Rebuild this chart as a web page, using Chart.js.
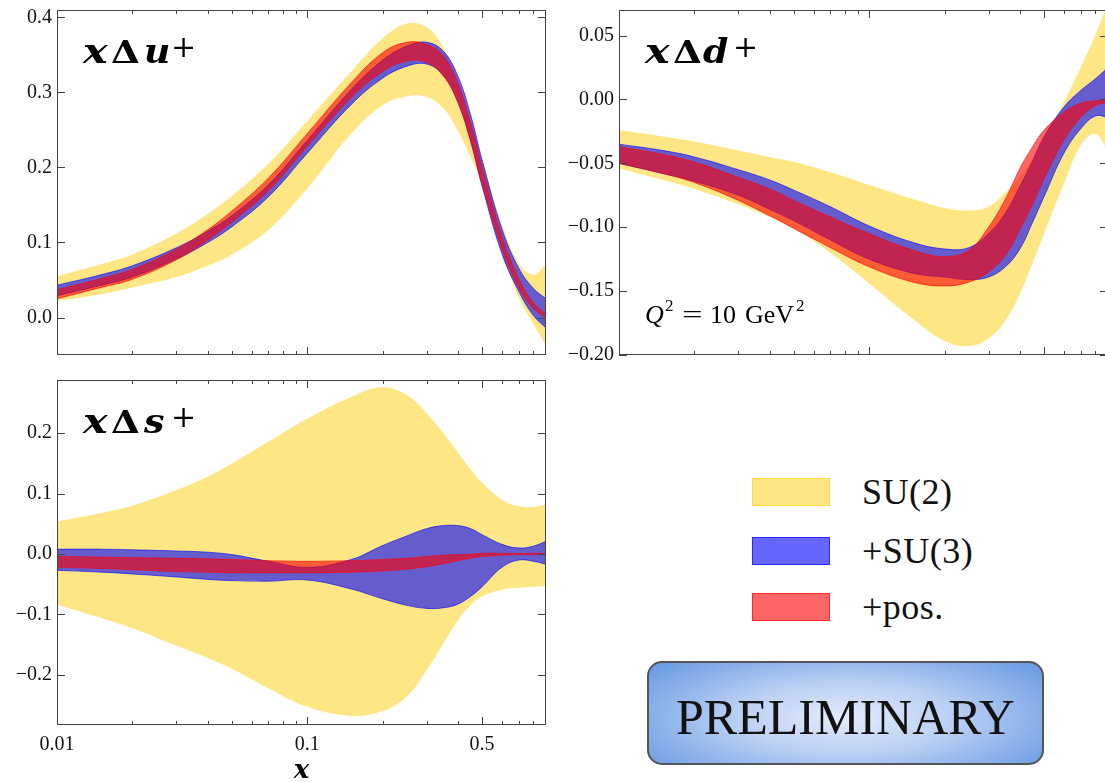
<!DOCTYPE html>
<html>
<head>
<meta charset="utf-8">
<title>Helicity PDFs</title>
<script src="https://cdn.jsdelivr.net/npm/chart.js@4.4.1/dist/chart.umd.min.js"></script>
<style>
  html, body { margin: 0; padding: 0; }
  body {
    width: 1105px; height: 782px; overflow: hidden; position: relative;
    background: #fff; color: #111;
    font-family: "Liberation Serif", "Times New Roman", serif;
  }
  .panel { position: absolute; }
  .key { position: absolute; left: 752px; width: 78px; height: 28px; box-sizing: border-box; border: 1px solid; }
  .keyText { position: absolute; left: 862px; height: 28px; line-height: 28px; font-size: 36px; letter-spacing: 0.5px; white-space: nowrap; }
  #prelim {
    position: absolute; left: 647px; top: 661px; width: 397px; height: 104px;
    box-sizing: border-box; border: 2px solid #555; border-radius: 15px;
    background: radial-gradient(ellipse 62% 80% at 50% 55%, #e4ecfb 0%, #b9cff3 45%, #6d9de5 100%);
    font-size: 50px; text-align: center; line-height: 100px; color: #111;
  }
  #prelim span { position: relative; top: 4px; }
</style>
</head>
<body>
<div class="panel" style="left:0;top:0"><canvas id="uChart" width="550" height="368"></canvas></div>
<div class="panel" style="left:562px;top:0"><canvas id="dChart" width="550" height="368"></canvas></div>
<div class="panel" style="left:0;top:370px"><canvas id="sChart" width="550" height="412"></canvas></div>

<div class="key" id="keySu2" style="top:478px"></div>
<div class="keyText" style="top:478px">SU(2)</div>
<div class="key" id="keySu3" style="top:537px"></div>
<div class="keyText" style="top:537px">+SU(3)</div>
<div class="key" id="keyPos" style="top:593px"></div>
<div class="keyText" style="top:593px">+pos.</div>

<div id="prelim"><span>PRELIMINARY</span></div>

<script>
// x grid shared by all three panels
const xGrid = [0.01, 0.015, 0.02, 0.03, 0.04, 0.05, 0.07, 0.1, 0.15, 0.2, 0.25, 0.3, 0.35, 0.4, 0.45, 0.5, 0.6, 0.7, 0.8, 0.9];
const xMin = 0.01, xMax = 0.9;
const xTickValues = [0.01, 0.1, 0.5];
const xTickLabels = ['0.01', '0.1', '0.5'];
const xMinorTicks = [0.01, 0.02, 0.03, 0.04, 0.05, 0.06, 0.07, 0.08, 0.09, 0.1, 0.2, 0.3, 0.4, 0.5, 0.6, 0.7, 0.8];

// x Delta u+
const uSu2Hi = [0.055, 0.071, 0.084, 0.112, 0.138, 0.162, 0.205, 0.262, 0.328, 0.372, 0.392, 0.387, 0.360, 0.315, 0.263, 0.210, 0.125, 0.073, 0.057, 0.071];
const uSu2Lo = [0.022, 0.031, 0.040, 0.054, 0.069, 0.084, 0.117, 0.172, 0.245, 0.283, 0.295, 0.294, 0.279, 0.249, 0.214, 0.177, 0.087, 0.027, -0.008, -0.037];
const uSu3Hi = [0.043, 0.057, 0.069, 0.093, 0.115, 0.136, 0.177, 0.236, 0.304, 0.343, 0.362, 0.367, 0.355, 0.322, 0.270, 0.210, 0.118, 0.066, 0.039, 0.025];
const uSu3Lo = [0.029, 0.043, 0.054, 0.078, 0.100, 0.121, 0.161, 0.219, 0.284, 0.319, 0.335, 0.338, 0.323, 0.287, 0.235, 0.175, 0.085, 0.035, 0.003, -0.014];
const uPosHi = [0.037, 0.052, 0.064, 0.091, 0.117, 0.142, 0.186, 0.245, 0.313, 0.353, 0.367, 0.364, 0.349, 0.313, 0.260, 0.200, 0.108, 0.052, 0.020, 0.004];
const uPosLo = [0.025, 0.040, 0.051, 0.077, 0.103, 0.127, 0.169, 0.228, 0.293, 0.328, 0.342, 0.340, 0.322, 0.287, 0.235, 0.177, 0.092, 0.040, 0.012, 0.000];
const uTicks = [0, 0.1, 0.2, 0.3, 0.4];

// x Delta d+
const dSu2Hi = [-0.024, -0.029, -0.033, -0.040, -0.045, -0.049, -0.057, -0.067, -0.078, -0.085, -0.087, -0.084, -0.073, -0.061, -0.046, -0.030, -0.002, 0.025, 0.050, 0.076];
const dSu2Lo = [-0.054, -0.063, -0.070, -0.082, -0.092, -0.101, -0.120, -0.144, -0.172, -0.189, -0.193, -0.187, -0.173, -0.152, -0.128, -0.105, -0.066, -0.036, -0.027, -0.040];
const dSu3Hi = [-0.035, -0.040, -0.045, -0.055, -0.063, -0.071, -0.084, -0.099, -0.112, -0.117, -0.116, -0.105, -0.089, -0.068, -0.048, -0.029, -0.006, 0.007, 0.016, 0.025];
const dSu3Lo = [-0.050, -0.058, -0.064, -0.075, -0.086, -0.095, -0.110, -0.125, -0.136, -0.139, -0.141, -0.139, -0.131, -0.117, -0.096, -0.076, -0.042, -0.023, -0.013, -0.014];
const dPosHi = [-0.037, -0.043, -0.049, -0.061, -0.070, -0.079, -0.092, -0.105, -0.118, -0.123, -0.118, -0.100, -0.078, -0.054, -0.037, -0.024, -0.010, -0.003, -0.001, 0.000];
const dPosLo = [-0.050, -0.058, -0.065, -0.079, -0.091, -0.101, -0.116, -0.131, -0.143, -0.146, -0.143, -0.135, -0.122, -0.102, -0.082, -0.062, -0.032, -0.014, -0.005, -0.002];
const dTicks = [-0.2, -0.15, -0.1, -0.05, 0, 0.05];

// x Delta s+
const sSu2Hi = [0.054, 0.068, 0.080, 0.106, 0.128, 0.150, 0.186, 0.224, 0.260, 0.276, 0.263, 0.233, 0.200, 0.168, 0.140, 0.118, 0.090, 0.079, 0.078, 0.082];
const sSu2Lo = [-0.084, -0.106, -0.123, -0.152, -0.172, -0.190, -0.222, -0.253, -0.268, -0.260, -0.236, -0.192, -0.148, -0.110, -0.085, -0.070, -0.059, -0.056, -0.054, -0.053];
const sSu3Hi = [0.008, 0.008, 0.007, 0.005, 0.003, -0.001, -0.012, -0.022, -0.009, 0.014, 0.030, 0.042, 0.047, 0.047, 0.042, 0.032, 0.016, 0.010, 0.013, 0.021];
const sSu3Lo = [-0.027, -0.030, -0.033, -0.038, -0.042, -0.044, -0.045, -0.043, -0.058, -0.074, -0.085, -0.090, -0.089, -0.083, -0.070, -0.054, -0.022, -0.010, -0.012, -0.017];
const sPosHi = [-0.004, -0.005, -0.006, -0.007, -0.008, -0.009, -0.011, -0.012, -0.011, -0.009, -0.007, -0.004, -0.002, -0.001, 0.000, 0.001, 0.001, 0.001, 0.001, 0.001];
const sPosLo = [-0.022, -0.024, -0.026, -0.029, -0.030, -0.031, -0.031, -0.031, -0.030, -0.028, -0.025, -0.021, -0.016, -0.011, -0.007, -0.004, -0.002, -0.001, -0.001, -0.001];
const sTicks = [-0.2, -0.1, 0, 0.1, 0.2];

const YELLOW = 'rgba(251, 206, 7, 0.5)';
const BLUE = 'rgba(0, 0, 255, 0.6)';
const RED = 'rgba(255, 0, 0, 0.6)';
const FRAME = '#444';
const FONT = '"Liberation Serif", "Times New Roman", serif';
const MATH = '"DejaVu Serif", serif';

document.getElementById('keySu2').style.cssText += `background:${YELLOW};border-color:${YELLOW}`;
document.getElementById('keySu3').style.cssText += `background:${BLUE};border-color:${BLUE}`;
document.getElementById('keyPos').style.cssText += `background:${RED};border-color:${RED}`;

function pts(arr) {
    return xGrid.map((x, i) => ({ x: x, y: arr[i] }));
}

function band(hi, lo, color, edge, width, order) {
    const common = { pointRadius: 0, borderColor: edge, borderWidth: width, order: order, tension: 0.4 };
    return [
        Object.assign({ data: pts(hi), fill: '+1', backgroundColor: color }, common),
        Object.assign({ data: pts(lo), fill: false }, common)
    ];
}

function fmt(v, dec) {
    const s = Math.abs(v) < 1e-9 ? (0).toFixed(dec) : v.toFixed(dec);
    return s.replace('-', '\u2212');
}

// frame box plus inward ticks on all four sides
const frameTicks = {
    id: 'frameTicks',
    afterDatasetsDraw(chart, args, opts) {
        const { ctx, chartArea: a, scales } = chart;
        ctx.save();
        ctx.strokeStyle = FRAME;
        ctx.lineWidth = 1;
        ctx.beginPath();
        xMinorTicks.forEach(v => {
            const px = Math.round(scales.x.getPixelForValue(v)) + 0.5;
            const len = xTickValues.includes(v) ? 8 : 4;
            ctx.moveTo(px, a.bottom); ctx.lineTo(px, a.bottom - len);
            ctx.moveTo(px, a.top); ctx.lineTo(px, a.top + len);
        });
        opts.yTicks.forEach(v => {
            const py = Math.round(scales.y.getPixelForValue(v)) + 0.5;
            ctx.moveTo(a.left, py); ctx.lineTo(a.left + 8, py);
            ctx.moveTo(a.right, py); ctx.lineTo(a.right - 8, py);
        });
        ctx.stroke();
        ctx.strokeRect(a.left + 0.5, a.top + 0.5, a.right - a.left - 1, a.bottom - a.top - 1);
        ctx.restore();
    }
};

// text stretched sideways, to get closer to the wide TeX math glyphs
function wideText(ctx, text, x, y, sx) {
    ctx.save();
    ctx.translate(x, y);
    ctx.scale(sx, 1);
    ctx.fillText(text, 0, 0);
    ctx.restore();
}

// x Delta q^+ label in the corner, and the Q^2 note
const panelTitle = {
    id: 'panelTitle',
    afterDraw(chart, args, o) {
        const { ctx, chartArea: a } = chart;
        const base = a.top + 53;
        ctx.save();
        ctx.fillStyle = '#000';
        ctx.textBaseline = 'alphabetic';
        ctx.font = 'italic bold 33px ' + MATH;
        wideText(ctx, 'x', a.left + 26, base, 1.25);
        ctx.font = 'bold 31px ' + MATH;
        wideText(ctx, '\u0394', a.left + 54, base, 1.2);
        ctx.font = 'italic bold 33px ' + MATH;
        wideText(ctx, o.flavour, a.left + (o.flavour === 'd' ? 84 : 87), base, 1.1);
        ctx.font = '30px ' + MATH;
        ctx.fillText('+', a.left + 114, a.top + 47);

        if (o.note) {
            const nb = a.bottom - 32;
            const L = a.left;
            ctx.font = 'italic 26px ' + FONT;
            ctx.fillText('Q', L + 26, nb);
            ctx.font = '17px ' + FONT;
            ctx.fillText('2', L + 46, nb - 12);
            ctx.font = '26px ' + FONT;
            wideText(ctx, '=', L + 63, nb, 1.4);
            ctx.fillText('10', L + 91, nb);
            ctx.fillText('GeV', L + 126, nb);
            ctx.font = '17px ' + FONT;
            ctx.fillText('2', L + 177, nb - 12);
        }
        ctx.restore();
    }
};

function makePanel(id, p) {
    return new Chart(document.getElementById(id), {
        type: 'line',
        data: {
            datasets: [
                ...band(p.su2Hi, p.su2Lo, YELLOW, 'transparent', 0, 3),
                ...band(p.su3Hi, p.su3Lo, BLUE, BLUE, 1, 2),
                ...band(p.posHi, p.posLo, RED, RED, 1, 1)
            ]
        },
        options: {
            responsive: false,
            animation: false,
            events: [],
            layout: { padding: { top: 10, right: 4, bottom: p.padBottom, left: 0 } },
            plugins: {
                legend: { display: false },
                tooltip: { enabled: false },
                frameTicks: { yTicks: p.yTicks },
                panelTitle: { flavour: p.flavour, note: p.note }
            },
            scales: {
                x: {
                    type: 'logarithmic',
                    min: xMin, max: xMax, bounds: 'data',
                    grid: { display: false, drawTicks: false },
                    border: { display: false },
                    afterBuildTicks: s => { s.ticks = xMinorTicks.map(v => ({ value: v })); },
                    afterFit: s => {
                        s.height = p.xHeight;
                        s.paddingLeft = 0; s.paddingRight = 0;
                    },
                    ticks: {
                        display: p.showX, autoSkip: false, maxRotation: 0, padding: 8,
                        color: '#111', font: { family: FONT, size: 20 },
                        callback: v => {
                            const i = xTickValues.findIndex(t => Math.abs(t - v) < 1e-9);
                            return i < 0 ? '' : xTickLabels[i];
                        }
                    },
                    title: {
                        display: p.showX, text: 'x', color: '#000',
                        font: { family: MATH, size: 26, style: 'italic', weight: 'bold', lineHeight: 1 },
                        padding: { top: 0, bottom: -2 }
                    }
                },
                y: {
                    type: 'linear',
                    min: p.yMin, max: p.yMax, bounds: 'data',
                    grid: { display: false, drawTicks: false },
                    border: { display: false },
                    afterBuildTicks: s => { s.ticks = p.yTicks.map(v => ({ value: v })); },
                    afterFit: s => {
                        s.width = 57;
                        s.paddingTop = 0; s.paddingBottom = 0;
                    },
                    ticks: {
                        autoSkip: false, padding: 5, color: '#111',
                        font: { family: FONT, size: 20 },
                        callback: v => fmt(v, p.dec)
                    }
                }
            }
        },
        plugins: [frameTicks, panelTitle]
    });
}

makePanel('uChart', {
    su2Hi: uSu2Hi, su2Lo: uSu2Lo, su3Hi: uSu3Hi, su3Lo: uSu3Lo, posHi: uPosHi, posLo: uPosLo,
    yMin: -0.05, yMax: 0.41, yTicks: uTicks, dec: 1, flavour: 'u', note: false,
    showX: false, xHeight: 0, padBottom: 13
});
makePanel('dChart', {
    su2Hi: dSu2Hi, su2Lo: dSu2Lo, su3Hi: dSu3Hi, su3Lo: dSu3Lo, posHi: dPosHi, posLo: dPosLo,
    yMin: -0.2, yMax: 0.07, yTicks: dTicks, dec: 2, flavour: 'd', note: true,
    showX: false, xHeight: 0, padBottom: 13
});
makePanel('sChart', {
    su2Hi: sSu2Hi, su2Lo: sSu2Lo, su3Hi: sSu3Hi, su3Lo: sSu3Lo, posHi: sPosHi, posLo: sPosLo,
    yMin: -0.283, yMax: 0.288, yTicks: sTicks, dec: 1, flavour: 's', note: false,
    showX: true, xHeight: 57, padBottom: 0
});
</script>
</body>
</html>
